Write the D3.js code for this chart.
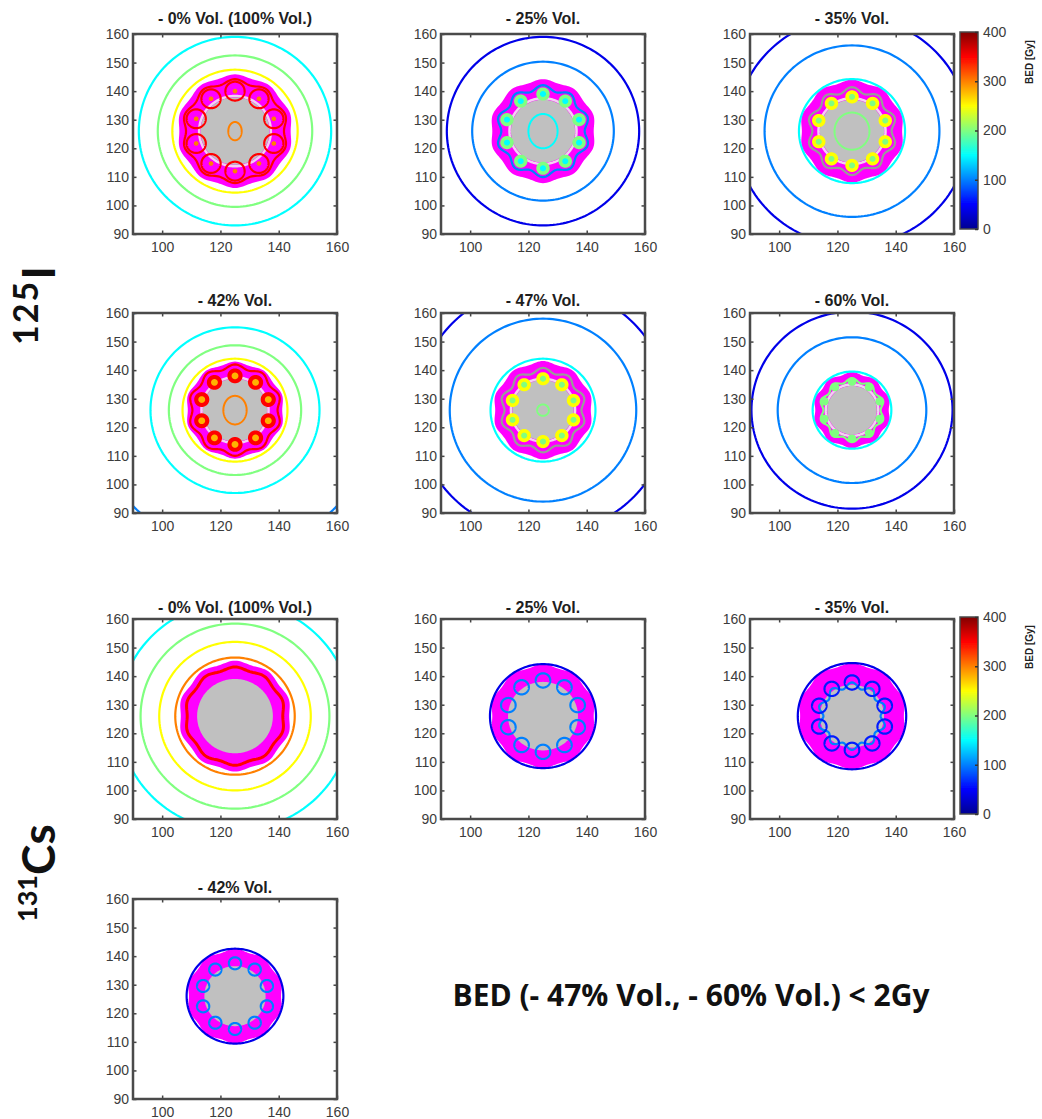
<!DOCTYPE html>
<html>
<head>
<meta charset="utf-8">
<style>
  body { margin: 0; background: #fff; }
  svg { display: block; }
  .tick text { font-family: "Liberation Sans", Arial, sans-serif; font-size: 14px; fill: #3c3c3c; }
  .ttl { font-family: "Liberation Sans", Arial, sans-serif; font-size: 16px; font-weight: bold; fill: #1e1e1e; }
  .big { font-family: Lato, "Open Sans", sans-serif; font-weight: bold; fill: #111; }
</style>
</head>
<body>
<script src="https://cdn.jsdelivr.net/npm/d3@7"></script>
<script>
// panels: six for 125I, then four for 131Cs
var titles = ["- 0% Vol. (100% Vol.)", "- 25% Vol.", "- 35% Vol.", "- 42% Vol.", "- 47% Vol.", "- 60% Vol.",
              "- 0% Vol. (100% Vol.)", "- 25% Vol.", "- 35% Vol.", "- 42% Vol."];

// iso-BED circles (radius in mm, BED in Gy)
var ringR   = [[33, 26.5, 21.5], [33, 24.3], [40, 30, 18.2], [48.5, 29, 22.7, 18], [43.5, 32, 18],
               [34.5, 25.5, 13.5], [40, 32.4, 26, 20.5], [18.2], [18.6], [16.6]];
var ringBED = [[150, 200, 250], [40, 100], [40, 100, 150], [100, 150, 200, 250], [40, 100, 150],
               [40, 100, 150], [150, 200, 250, 300], [40], [40], [40]];

// region above 400 Gy (outer radius) and the target volume (grey)
var hotR  = [19.5, 17.8, 17.6, 16.6, 16.8, 13, 19, 17.8, 18.2, 16.2];
var grayR = [11.8, 11, 11, 11, 10.5, 8.5, 13, 12, 11, 10.5];

// scalloped contour around the seed ring (null BED = grey line)
var waveR   = [17.5, 15.2, 14.5, 15.3, 14, 10.5, 16.8, null, 10.8, null];
var waveAmp = [0.7, 0.9, 0.9, 0.7, 0.8, 0.7, 0.4, 0, 1.0, 0];
var waveBED = [350, 100, null, 350, null, 200, 350, null, 100, null];

// seeds: ring radius, seed contour radius, BED of edge / body / core
var seedAngles = [90, 54, 18, -18, -54, -90, -126, -162, 162, 126];
var seedRing = [14, 13, 12, 12, 11, 10, 0, 12.5, 11.8, 11.5];
var seedR    = [3.3, 2.3, 2.3, 2.6, 2.3, 1.5, 0, 2.5, 2.5, 2.1];
var seedEdge = [350, null, null, null, null, null, null, 100, 60, 100];
var seedBody = [null, 200, 250, 350, 250, 200, null, null, null, null];
var seedCore = [300, 150, 200, 280, 200, null, null, null, null, null];

// central contour (rx, ry in mm)
var midRx  = [2.3, 5, 6, 4, 2, 0, 0, 0, 0, 0];
var midRy  = [3.2, 6, 6.5, 5, 2, 0, 0, 0, 0, 0];
var midBED = [300, 150, 200, 300, 200, null, null, null, null, null];

var cx = 125, cy = 126;
var yTicks = [90, 100, 110, 120, 130, 140, 150, 160];
var xTicks = [100, 120, 140, 160];
var cbTicks = [0, 100, 200, 300, 400];

var colX = [133, 441, 750], rowY = [34, 313, 619, 899], boxW = 204, boxH = 200;
var titleY = [24, 306, 613, 893];
var slots = [[0, 0], [0, 1], [0, 2], [1, 0], [1, 1], [1, 2], [2, 0], [2, 1], [2, 2], [3, 0]];

var jet = d3.scaleLinear()
  .domain([0, 50, 150, 250, 350, 400])
  .range(["#000090", "#0000ff", "#00ffff", "#ffff00", "#ff0000", "#800000"])
  .clamp(true);
function lineColor(v) { return v == null ? "#9a9a9a" : jet(v); }

var svg = d3.select("body").append("svg").attr("width", 1042).attr("height", 1119);
var defs = svg.append("defs");
defs.append("filter").attr("id", "soft").attr("x", "-5%").attr("y", "-5%").attr("width", "110%").attr("height", "110%")
  .append("feGaussianBlur").attr("stdDeviation", 0.7);

var grad = defs.append("linearGradient").attr("id", "jet").attr("x1", 0).attr("y1", 1).attr("x2", 0).attr("y2", 0);
d3.range(0, 401, 25).forEach(function(v) {
  grad.append("stop").attr("offset", (v / 4) + "%").attr("stop-color", jet(v));
});

function loop(x, y, ox, oy, rx, ry, amp) {
  var pts = d3.range(0, 360, 2).map(function(a) {
    var t = a * Math.PI / 180;
    var k = 1 + amp * Math.cos(10 * (t - Math.PI / 2)) / rx;
    return [x(ox + rx * k * Math.cos(t)), y(oy + ry * k * Math.sin(t))];
  });
  return d3.line().curve(d3.curveLinearClosed)(pts);
}

titles.forEach(function(title, i) {
  var s = slots[i], x0 = colX[s[1]], y0 = rowY[s[0]];
  var x = d3.scaleLinear().domain([90, 160]).range([x0, x0 + boxW]);
  var y = d3.scaleLinear().domain([90, 160]).range([y0 + boxH, y0]);

  defs.append("clipPath").attr("id", "clip" + i).append("rect")
    .attr("x", x0).attr("y", y0).attr("width", boxW).attr("height", boxH);

  var g = svg.append("g");
  var p = g.append("g").attr("clip-path", "url(#clip" + i + ")").append("g").attr("filter", "url(#soft)");
  p.append("rect").attr("x", x0).attr("y", y0).attr("width", boxW).attr("height", boxH).attr("fill", "#fff");

  p.append("path").attr("d", loop(x, y, cx, cy, hotR[i], hotR[i], 0.4)).attr("fill", "#ff00ff");

  ringR[i].forEach(function(r, k) {
    p.append("path").attr("d", loop(x, y, cx, cy, r, r, 0))
      .attr("fill", "none").attr("stroke", jet(ringBED[i][k])).attr("stroke-width", 2.2);
  });

  if (i < 6) {
    p.append("path").attr("d", loop(x, y, cx, cy, grayR[i] + 0.5, grayR[i] + 0.5, 0))
      .attr("fill", "none").attr("stroke", "#f3d0f3").attr("stroke-width", 2.5);
  }
  p.append("path").attr("d", loop(x, y, cx, cy, grayR[i], grayR[i], 0)).attr("fill", "#c0c0c0");

  if (waveR[i] != null) {
    p.append("path").attr("d", loop(x, y, cx, cy, waveR[i], waveR[i], waveAmp[i]))
      .attr("fill", "none").attr("stroke", lineColor(waveBED[i])).attr("stroke-width", i == 6 ? 3 : 2.2);
  }

  if (seedR[i] > 0) {
    seedAngles.forEach(function(a) {
      var t = a * Math.PI / 180;
      var sx = cx + seedRing[i] * Math.cos(t), sy = cy + seedRing[i] * Math.sin(t);
      if (seedBody[i] != null) {
        p.append("path").attr("d", loop(x, y, sx, sy, seedR[i], seedR[i], 0)).attr("fill", jet(seedBody[i]));
      }
      if (seedEdge[i] != null) {
        p.append("path").attr("d", loop(x, y, sx, sy, seedR[i], seedR[i], 0))
          .attr("fill", "none").attr("stroke", jet(seedEdge[i])).attr("stroke-width", 2.2);
      }
      if (seedCore[i] != null) {
        var cr = seedBody[i] != null ? seedR[i] * 0.45 : 0.8;
        p.append("path").attr("d", loop(x, y, sx, sy, cr, cr, 0)).attr("fill", jet(seedCore[i]));
      }
    });
  }

  if (midBED[i] != null) {
    p.append("path").attr("d", loop(x, y, cx, cy, midRx[i], midRy[i], 0))
      .attr("fill", "none").attr("stroke", jet(midBED[i])).attr("stroke-width", 2);
  }

  // axes, MATLAB style: inward ticks on all four sides
  g.append("g").attr("transform", "translate(" + x0 + ",0)")
    .call(d3.axisLeft(y).tickValues(yTicks).tickSize(-3.5).tickPadding(4))
    .call(function(a) { a.select(".domain").remove(); });
  g.append("g").attr("transform", "translate(" + (x0 + boxW) + ",0)")
    .call(d3.axisRight(y).tickValues(yTicks).tickSize(-3.5).tickFormat(""))
    .call(function(a) { a.select(".domain").remove(); });
  g.append("g").attr("transform", "translate(0," + (y0 + boxH) + ")")
    .call(d3.axisBottom(x).tickValues(xTicks).tickSize(-3.5).tickPadding(8))
    .call(function(a) { a.select(".domain").remove(); });
  g.append("g").attr("transform", "translate(0," + y0 + ")")
    .call(d3.axisTop(x).tickValues(xTicks).tickSize(-3.5).tickFormat(""))
    .call(function(a) { a.select(".domain").remove(); });
  g.selectAll(".tick line").attr("stroke", "#444").attr("stroke-width", 1.5);

  g.append("rect").attr("x", x0).attr("y", y0).attr("width", boxW).attr("height", boxH)
    .attr("fill", "none").attr("stroke", "#4a4a4a").attr("stroke-width", 2.5);

  g.append("text").attr("class", "ttl").attr("x", x0 + boxW / 2).attr("y", titleY[s[0]])
    .attr("text-anchor", "middle").text(title);
});

// colour bars next to the first panel row of each isotope
[0, 2].forEach(function(row) {
  var top = rowY[row] - 2, h = 197, left = 960, w = 18;
  var c = d3.scaleLinear().domain([0, 400]).range([top + h, top]);
  var g = svg.append("g");
  g.append("rect").attr("x", left).attr("y", top).attr("width", w).attr("height", h)
    .attr("fill", "url(#jet)").attr("filter", "url(#soft)");
  g.append("rect").attr("x", left).attr("y", top).attr("width", w).attr("height", h)
    .attr("fill", "none").attr("stroke", "#4a4a4a").attr("stroke-width", 1.5);
  g.append("g").attr("transform", "translate(" + (left + w) + ",0)")
    .call(d3.axisRight(c).tickValues(cbTicks).tickSize(-3).tickPadding(5))
    .call(function(a) { a.select(".domain").remove(); });
  g.selectAll(".tick line").attr("stroke", "#333").attr("stroke-width", 1.5);
  g.append("text").attr("transform", "translate(1033," + (top + 30) + ") rotate(-90)")
    .attr("text-anchor", "middle")
    .style("font-family", "'Liberation Sans', Arial, sans-serif").style("font-size", "10px").style("font-weight", "bold")
    .attr("fill", "#222").text("BED [Gy]");
});

// isotope labels
var lab1 = svg.append("text").attr("class", "big").attr("transform", "translate(55,345) rotate(-90)");
lab1.append("tspan").attr("dy", -17).style("font-size", "34px").style("letter-spacing", "2px").text("125");
lab1.append("tspan").attr("dy", 17).style("font-size", "46px").text("I");

var lab2 = svg.append("text").attr("class", "big").attr("transform", "translate(55,922) rotate(-90)");
lab2.append("tspan").attr("dy", -18).style("font-size", "27px").text("131");
lab2.append("tspan").attr("dy", 18).style("font-size", "46px").text("Cs");

svg.append("text").attr("x", 691).attr("y", 1006).attr("text-anchor", "middle")
  .style("font-family", "'Open Sans', sans-serif").style("font-weight", "bold").style("font-size", "30px")
  .attr("fill", "#111").text("BED (- 47% Vol., - 60% Vol.) < 2Gy");
</script>
</body>
</html>
